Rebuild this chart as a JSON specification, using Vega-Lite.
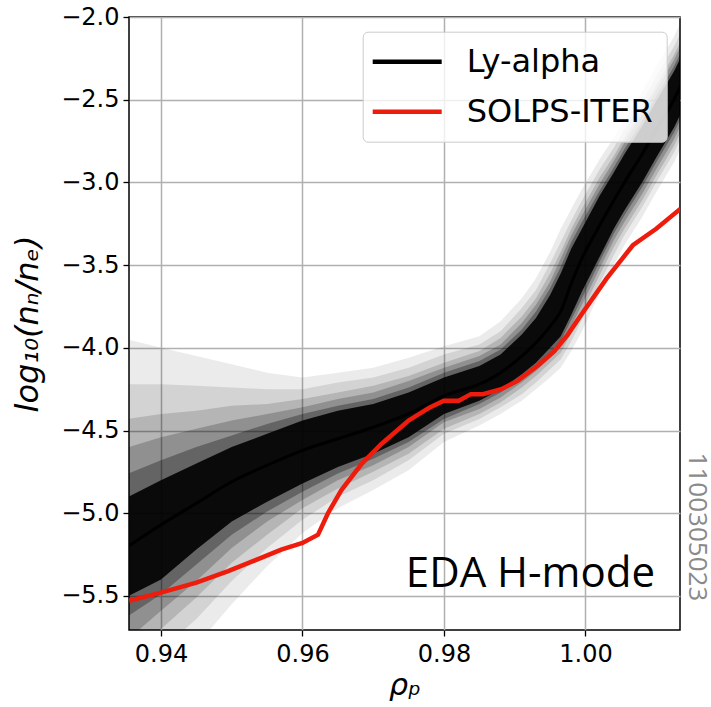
{
  "$schema": "https://vega.github.io/schema/vega-lite/v6.json",
  "width": 551,
  "height": 613,
  "autosize": {"type": "none"},
  "padding": {"left": 129, "top": 17, "right": 31, "bottom": 77},
  "background": "white",
  "config": {
    "view": {"stroke": "black", "strokeWidth": 1.5},
    "axis": {
      "grid": true, "gridColor": "#b0b0b0", "gridWidth": 1.5, "domain": false,
      "tickColor": "black", "tickSize": 6, "tickWidth": 1.3,
      "labelFont": "DejaVu Sans", "labelColor": "black",
      "titleFont": "DejaVu Sans", "titleColor": "black", "titleFontWeight": "normal", "titleFontStyle": "italic",
      "zindex": 1
    },
    "axisX": {"labelFontSize": 24, "labelPadding": 6, "titleFontSize": 30, "titlePadding": 4},
    "axisY": {"labelFontSize": 24, "labelPadding": 4, "titleFontSize": 32, "titlePadding": 16}
  },
  "datasets": {
    "band": [
      {"x":0.9354,"series":"Ly-alpha","c":-5.20,"cHi":-4.90,"jHi":-4.76,"iHi":-4.60,"mHi":-4.43,"eHi":-4.22,"fHi":-3.95,"cLo":-5.50,"jLo":-5.62,"iLo":-5.76,"mLo":-5.90,"eLo":-6.08,"fLo":-6.30},
      {"x":0.94,"series":"Ly-alpha","c":-5.07,"cHi":-4.80,"jHi":-4.68,"iHi":-4.54,"mHi":-4.40,"eHi":-4.22,"fHi":-4.00,"cLo":-5.40,"jLo":-5.49,"iLo":-5.59,"mLo":-5.70,"eLo":-5.83,"fLo":-6.00},
      {"x":0.945,"series":"Ly-alpha","c":-4.94,"cHi":-4.70,"jHi":-4.60,"iHi":-4.49,"mHi":-4.38,"eHi":-4.23,"fHi":-4.05,"cLo":-5.22,"jLo":-5.31,"iLo":-5.41,"mLo":-5.51,"eLo":-5.64,"fLo":-5.80},
      {"x":0.95,"series":"Ly-alpha","c":-4.81,"cHi":-4.60,"jHi":-4.53,"iHi":-4.44,"mHi":-4.35,"eHi":-4.24,"fHi":-4.10,"cLo":-5.05,"jLo":-5.13,"iLo":-5.21,"mLo":-5.30,"eLo":-5.41,"fLo":-5.55},
      {"x":0.955,"series":"Ly-alpha","c":-4.71,"cHi":-4.52,"jHi":-4.46,"iHi":-4.40,"mHi":-4.34,"eHi":-4.25,"fHi":-4.15,"cLo":-4.93,"jLo":-4.99,"iLo":-5.05,"mLo":-5.13,"eLo":-5.21,"fLo":-5.32},
      {"x":0.96,"series":"Ly-alpha","c":-4.62,"cHi":-4.44,"jHi":-4.40,"iHi":-4.36,"mHi":-4.31,"eHi":-4.25,"fHi":-4.18,"cLo":-4.82,"jLo":-4.87,"iLo":-4.92,"mLo":-4.97,"eLo":-5.04,"fLo":-5.12},
      {"x":0.965,"series":"Ly-alpha","c":-4.55,"cHi":-4.38,"jHi":-4.35,"iHi":-4.31,"mHi":-4.27,"eHi":-4.21,"fHi":-4.15,"cLo":-4.72,"jLo":-4.76,"iLo":-4.80,"mLo":-4.85,"eLo":-4.90,"fLo":-4.97},
      {"x":0.97,"series":"Ly-alpha","c":-4.48,"cHi":-4.34,"jHi":-4.31,"iHi":-4.27,"mHi":-4.23,"eHi":-4.18,"fHi":-4.12,"cLo":-4.64,"jLo":-4.67,"iLo":-4.71,"mLo":-4.75,"eLo":-4.80,"fLo":-4.86},
      {"x":0.975,"series":"Ly-alpha","c":-4.40,"cHi":-4.27,"jHi":-4.24,"iHi":-4.20,"mHi":-4.17,"eHi":-4.12,"fHi":-4.06,"cLo":-4.54,"jLo":-4.57,"iLo":-4.60,"mLo":-4.64,"eLo":-4.68,"fLo":-4.74},
      {"x":0.98,"series":"Ly-alpha","c":-4.29,"cHi":-4.18,"jHi":-4.15,"iHi":-4.12,"mHi":-4.09,"eHi":-4.04,"fHi":-3.99,"cLo":-4.40,"jLo":-4.43,"iLo":-4.45,"mLo":-4.49,"eLo":-4.52,"fLo":-4.57},
      {"x":0.985,"series":"Ly-alpha","c":-4.22,"cHi":-4.11,"jHi":-4.08,"iHi":-4.05,"mHi":-4.02,"eHi":-3.98,"fHi":-3.93,"cLo":-4.32,"jLo":-4.34,"iLo":-4.37,"mLo":-4.40,"eLo":-4.43,"fLo":-4.47},
      {"x":0.988,"series":"Ly-alpha","c":-4.15,"cHi":-4.04,"jHi":-4.01,"iHi":-3.98,"mHi":-3.94,"eHi":-3.90,"fHi":-3.84,"cLo":-4.25,"jLo":-4.27,"iLo":-4.30,"mLo":-4.33,"eLo":-4.36,"fLo":-4.40},
      {"x":0.991,"series":"Ly-alpha","c":-4.05,"cHi":-3.92,"jHi":-3.89,"iHi":-3.85,"mHi":-3.81,"eHi":-3.76,"fHi":-3.70,"cLo":-4.16,"jLo":-4.18,"iLo":-4.21,"mLo":-4.24,"eLo":-4.28,"fLo":-4.32},
      {"x":0.993,"series":"Ly-alpha","c":-3.97,"cHi":-3.82,"jHi":-3.78,"iHi":-3.74,"mHi":-3.70,"eHi":-3.65,"fHi":-3.58,"cLo":-4.09,"jLo":-4.11,"iLo":-4.14,"mLo":-4.17,"eLo":-4.21,"fLo":-4.25},
      {"x":0.995,"series":"Ly-alpha","c":-3.87,"cHi":-3.68,"jHi":-3.64,"iHi":-3.60,"mHi":-3.55,"eHi":-3.49,"fHi":-3.42,"cLo":-4.00,"jLo":-4.03,"iLo":-4.06,"mLo":-4.09,"eLo":-4.13,"fLo":-4.18},
      {"x":0.9965,"series":"Ly-alpha","c":-3.78,"cHi":-3.55,"jHi":-3.51,"iHi":-3.46,"mHi":-3.42,"eHi":-3.36,"fHi":-3.28,"cLo":-3.93,"jLo":-3.96,"iLo":-3.99,"mLo":-4.03,"eLo":-4.07,"fLo":-4.12},
      {"x":0.998,"series":"Ly-alpha","c":-3.61,"cHi":-3.40,"jHi":-3.36,"iHi":-3.32,"mHi":-3.28,"eHi":-3.23,"fHi":-3.16,"cLo":-3.80,"jLo":-3.83,"iLo":-3.87,"mLo":-3.91,"eLo":-3.96,"fLo":-4.02},
      {"x":0.9995,"series":"Ly-alpha","c":-3.46,"cHi":-3.28,"jHi":-3.24,"iHi":-3.20,"mHi":-3.16,"eHi":-3.11,"fHi":-3.04,"cLo":-3.66,"jLo":-3.70,"iLo":-3.74,"mLo":-3.78,"eLo":-3.83,"fLo":-3.90},
      {"x":1.002,"series":"Ly-alpha","c":-3.26,"cHi":-3.08,"jHi":-3.05,"iHi":-3.01,"mHi":-2.97,"eHi":-2.92,"fHi":-2.86,"cLo":-3.45,"jLo":-3.48,"iLo":-3.52,"mLo":-3.56,"eLo":-3.61,"fLo":-3.67},
      {"x":1.004,"series":"Ly-alpha","c":-3.11,"cHi":-2.94,"jHi":-2.91,"iHi":-2.87,"mHi":-2.84,"eHi":-2.79,"fHi":-2.73,"cLo":-3.28,"jLo":-3.31,"iLo":-3.35,"mLo":-3.39,"eLo":-3.44,"fLo":-3.50},
      {"x":1.0055,"series":"Ly-alpha","c":-3.00,"cHi":-2.83,"jHi":-2.80,"iHi":-2.76,"mHi":-2.73,"eHi":-2.68,"fHi":-2.62,"cLo":-3.17,"jLo":-3.20,"iLo":-3.24,"mLo":-3.28,"eLo":-3.32,"fLo":-3.38},
      {"x":1.008,"series":"Ly-alpha","c":-2.83,"cHi":-2.66,"jHi":-2.63,"iHi":-2.59,"mHi":-2.56,"eHi":-2.51,"fHi":-2.45,"cLo":-3.00,"jLo":-3.03,"iLo":-3.07,"mLo":-3.11,"eLo":-3.15,"fLo":-3.21},
      {"x":1.010,"series":"Ly-alpha","c":-2.68,"cHi":-2.51,"jHi":-2.48,"iHi":-2.44,"mHi":-2.41,"eHi":-2.36,"fHi":-2.30,"cLo":-2.85,"jLo":-2.88,"iLo":-2.92,"mLo":-2.96,"eLo":-3.00,"fLo":-3.06},
      {"x":1.0125,"series":"Ly-alpha","c":-2.50,"cHi":-2.33,"jHi":-2.30,"iHi":-2.26,"mHi":-2.23,"eHi":-2.18,"fHi":-2.12,"cLo":-2.67,"jLo":-2.70,"iLo":-2.74,"mLo":-2.78,"eLo":-2.82,"fLo":-2.88},
      {"x":1.0134,"series":"Ly-alpha","c":-2.42,"cHi":-2.25,"jHi":-2.22,"iHi":-2.18,"mHi":-2.15,"eHi":-2.10,"fHi":-2.04,"cLo":-2.59,"jLo":-2.62,"iLo":-2.66,"mLo":-2.70,"eLo":-2.74,"fLo":-2.80}
    ],
    "solps": [
      {"x":0.9355,"y":-5.53,"series":"SOLPS-ITER"},
      {"x":0.94,"y":-5.48,"series":"SOLPS-ITER"},
      {"x":0.945,"y":-5.42,"series":"SOLPS-ITER"},
      {"x":0.9495,"y":-5.35,"series":"SOLPS-ITER"},
      {"x":0.953,"y":-5.29,"series":"SOLPS-ITER"},
      {"x":0.957,"y":-5.22,"series":"SOLPS-ITER"},
      {"x":0.96,"y":-5.18,"series":"SOLPS-ITER"},
      {"x":0.9622,"y":-5.13,"series":"SOLPS-ITER"},
      {"x":0.9636,"y":-5.00,"series":"SOLPS-ITER"},
      {"x":0.9655,"y":-4.86,"series":"SOLPS-ITER"},
      {"x":0.9684,"y":-4.70,"series":"SOLPS-ITER"},
      {"x":0.9712,"y":-4.58,"series":"SOLPS-ITER"},
      {"x":0.975,"y":-4.44,"series":"SOLPS-ITER"},
      {"x":0.978,"y":-4.36,"series":"SOLPS-ITER"},
      {"x":0.98,"y":-4.32,"series":"SOLPS-ITER"},
      {"x":0.9821,"y":-4.32,"series":"SOLPS-ITER"},
      {"x":0.9838,"y":-4.28,"series":"SOLPS-ITER"},
      {"x":0.9855,"y":-4.28,"series":"SOLPS-ITER"},
      {"x":0.9881,"y":-4.25,"series":"SOLPS-ITER"},
      {"x":0.9904,"y":-4.20,"series":"SOLPS-ITER"},
      {"x":0.9932,"y":-4.11,"series":"SOLPS-ITER"},
      {"x":0.9956,"y":-4.02,"series":"SOLPS-ITER"},
      {"x":0.9975,"y":-3.92,"series":"SOLPS-ITER"},
      {"x":0.9994,"y":-3.80,"series":"SOLPS-ITER"},
      {"x":1.003,"y":-3.58,"series":"SOLPS-ITER"},
      {"x":1.0067,"y":-3.38,"series":"SOLPS-ITER"},
      {"x":1.01,"y":-3.28,"series":"SOLPS-ITER"},
      {"x":1.0134,"y":-3.16,"series":"SOLPS-ITER"}
    ],
    "notes": [
      {"label": "EDA H-mode", "x": 1.00983, "y": -5.444}
    ],
    "stamp": [
      {"label": "1100305023", "x": 1.0157, "y": -5.083}
    ]
  },
  "encoding": {
    "x": {
      "field": "x", "type": "quantitative",
      "scale": {"domain": [0.93548, 1.01336], "nice": false, "zero": false},
      "axis": {"values": [0.94, 0.96, 0.98, 1.0], "format": ".2f", "title": "ρₚ"}
    }
  },
  "layer": [
    {
      "data": {"name": "band"},
      "mark": {"type": "area", "color": "black", "opacity": 0.08, "clip": true},
      "encoding": {
        "y": {"field": "fLo", "type": "quantitative", "title": "log₁₀(nₙ/nₑ)",
              "scale": {"domain": [-5.706, -2.0], "nice": false, "zero": false},
              "axis": {"values": [-5.5, -5.0, -4.5, -4.0, -3.5, -3.0, -2.5, -2.0], "format": ".1f"}},
        "y2": {"field": "fHi"}
      }
    },
    {
      "data": {"name": "band"},
      "mark": {"type": "area", "color": "black", "opacity": 0.1, "clip": true},
      "encoding": {
        "y": {"field": "eLo", "type": "quantitative", "title": "log₁₀(nₙ/nₑ)"},
        "y2": {"field": "eHi"}
      }
    },
    {
      "data": {"name": "band"},
      "mark": {"type": "area", "color": "black", "opacity": 0.14, "clip": true},
      "encoding": {
        "y": {"field": "mLo", "type": "quantitative", "title": "log₁₀(nₙ/nₑ)"},
        "y2": {"field": "mHi"}
      }
    },
    {
      "data": {"name": "band"},
      "mark": {"type": "area", "color": "black", "opacity": 0.2, "clip": true},
      "encoding": {
        "y": {"field": "iLo", "type": "quantitative", "title": "log₁₀(nₙ/nₑ)"},
        "y2": {"field": "iHi"}
      }
    },
    {
      "data": {"name": "band"},
      "mark": {"type": "area", "color": "black", "opacity": 0.3, "clip": true},
      "encoding": {
        "y": {"field": "jLo", "type": "quantitative", "title": "log₁₀(nₙ/nₑ)"},
        "y2": {"field": "jHi"}
      }
    },
    {
      "data": {"name": "band"},
      "mark": {"type": "area", "color": "black", "opacity": 0.9, "clip": true},
      "encoding": {
        "y": {"field": "cLo", "type": "quantitative", "title": "log₁₀(nₙ/nₑ)"},
        "y2": {"field": "cHi"}
      }
    },
    {
      "data": {"name": "band"},
      "mark": {"type": "line", "strokeWidth": 3, "clip": true, "interpolate": "monotone"},
      "encoding": {
        "y": {"field": "c", "type": "quantitative", "title": "log₁₀(nₙ/nₑ)"},
        "color": {
          "field": "series", "type": "nominal",
          "scale": {"domain": ["Ly-alpha", "SOLPS-ITER"], "range": ["black", "#ee1c0c"]},
          "legend": {
            "orient": "none", "legendX": 233.7, "legendY": 14.7, "title": null,
            "symbolType": "M-4,0H9.8", "symbolSize": 100, "symbolStrokeWidth": 4.5,
            "labelFont": "DejaVu Sans", "labelFontSize": 32, "labelColor": "black",
            "labelOffset": 58, "labelLimit": 400, "rowPadding": 18, "padding": 14,
            "fillColor": "rgba(255,255,255,0.8)", "strokeColor": "#cccccc", "cornerRadius": 5
          }
        }
      }
    },
    {
      "data": {"name": "solps"},
      "mark": {"type": "line", "strokeWidth": 4.5, "clip": true},
      "encoding": {
        "y": {"field": "y", "type": "quantitative", "title": "log₁₀(nₙ/nₑ)"},
        "color": {"field": "series", "type": "nominal"}
      }
    },
    {
      "data": {"name": "notes"},
      "mark": {"type": "text", "font": "Open Sans", "fontSize": 42, "align": "right", "baseline": "alphabetic", "color": "black"},
      "encoding": {
        "y": {"field": "y", "type": "quantitative", "title": "log₁₀(nₙ/nₑ)"},
        "text": {"field": "label", "type": "nominal"}
      }
    },
    {
      "data": {"name": "stamp"},
      "mark": {"type": "text", "font": "Open Sans", "fontSize": 26, "align": "center", "baseline": "middle", "angle": 90, "color": "#8a8a8a"},
      "encoding": {
        "y": {"field": "y", "type": "quantitative", "title": "log₁₀(nₙ/nₑ)"},
        "text": {"field": "label", "type": "nominal"}
      }
    }
  ]
}
